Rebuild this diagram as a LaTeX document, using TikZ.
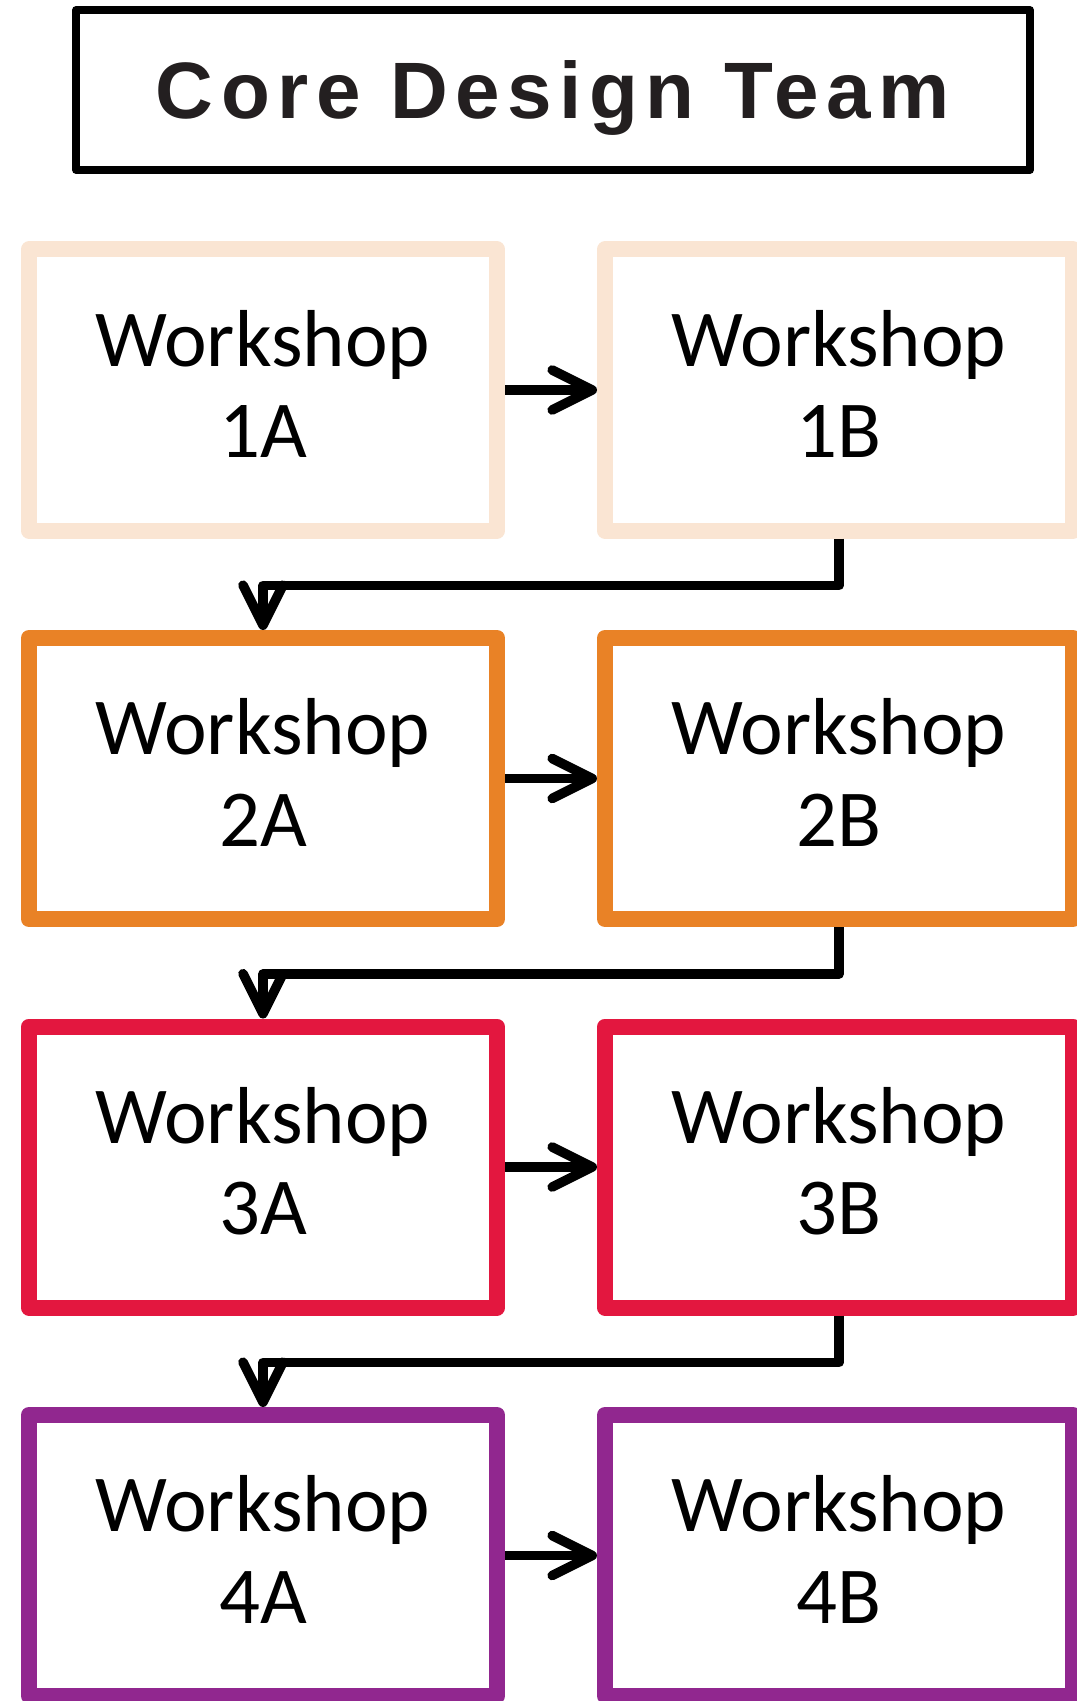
\documentclass[tikz,border=0pt]{standalone}
\usepackage{fontspec}
\setmainfont{Carlito}
\newfontfamily\titlefont[LetterSpace=9.4]{Liberation Sans}
\usetikzlibrary{arrows.meta}
\definecolor{rowone}{HTML}{FAE5D3}
\definecolor{rowtwo}{HTML}{E98226}
\definecolor{rowthree}{HTML}{E3173F}
\definecolor{rowfour}{HTML}{91278F}
\definecolor{inkdark}{HTML}{231F20}

\begin{document}
\begin{tikzpicture}[x=0.5pt,y=-0.5pt,
  wbox/.style={draw, line width=8pt, line join=round, minimum width=234pt,
    minimum height=140.5pt, inner sep=0pt},
  wlabel/.style={align=center, font=\fontsize{40.4}{45.6}\selectfont, inner sep=0pt},
  flow/.style={line width=4.8pt, line join=round,
    -{Straight Barb[length=20pt,width=20pt,line cap=round,line join=round]}},
  titlebox/.style={draw, line width=3.75pt, line join=round, minimum width=477pt,
    minimum height=80pt, inner sep=0pt, text=inkdark,
    font=\titlefont\bfseries\fontsize{40}{48}\selectfont,
    text height=28.5pt, text depth=0pt}
]
\useasboundingbox (0,0) rectangle (1076,1701);

% heading
\node[titlebox] (title) at (553,90) {Core Design Team};

% workshop boxes, two per row
\node[wbox, draw=rowone]   (w1a) at (263,390)    {};
\node[wbox, draw=rowone]   (w1b) at (839,390)    {};
\node[wbox, draw=rowtwo]   (w2a) at (263,778.5)  {};
\node[wbox, draw=rowtwo]   (w2b) at (839,778.5)  {};
\node[wbox, draw=rowthree] (w3a) at (263,1167)   {};
\node[wbox, draw=rowthree] (w3b) at (839,1167)   {};
\node[wbox, draw=rowfour]  (w4a) at (263,1555.5) {};
\node[wbox, draw=rowfour]  (w4b) at (839,1555.5) {};

% box captions
\node[wlabel] (t1a) at ([yshift=3pt]w1a.center) {Workshop\\1A};
\node[wlabel] (t1b) at ([yshift=3pt]w1b.center) {Workshop\\1B};
\node[wlabel] (t2a) at ([yshift=3pt]w2a.center) {Workshop\\2A};
\node[wlabel] (t2b) at ([yshift=3pt]w2b.center) {Workshop\\2B};
\node[wlabel] (t3a) at ([yshift=3pt]w3a.center) {Workshop\\3A};
\node[wlabel] (t3b) at ([yshift=3pt]w3b.center) {Workshop\\3B};
\node[wlabel] (t4a) at ([yshift=3pt]w4a.center) {Workshop\\4A};
\node[wlabel] (t4b) at ([yshift=3pt]w4b.center) {Workshop\\4B};

% flow within each row
\draw[flow] (w1a) -- (w1b);
\draw[flow] (w2a) -- (w2b);
\draw[flow] (w3a) -- (w3b);
\draw[flow] (w4a) -- (w4b);

% flow from one row to the next
\draw[flow] (w1b.south) -- ++(0,47) -| (w2a.north);
\draw[flow] (w2b.south) -- ++(0,47) -| (w3a.north);
\draw[flow] (w3b.south) -- ++(0,47) -| (w4a.north);
\end{tikzpicture}
\end{document}
